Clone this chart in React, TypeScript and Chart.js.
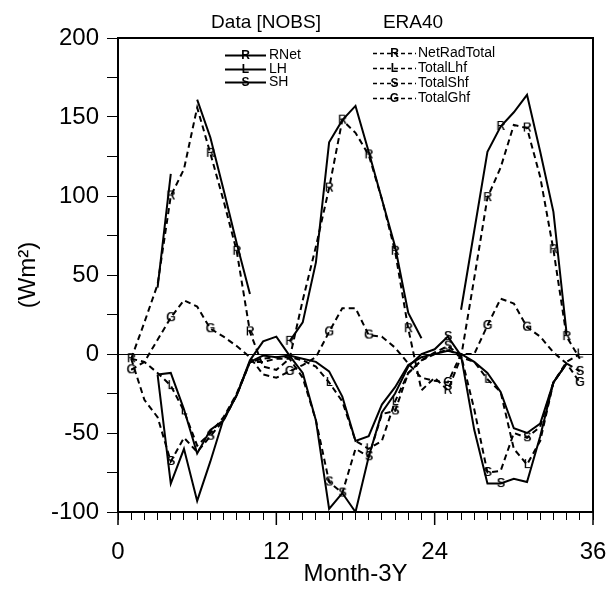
import React, { useEffect, useRef } from 'react';
import { Chart, registerables } from 'chart.js';

Chart.register(...registerables);

// Months of the 3-year record
const months = [1, 2, 3, 4, 5, 6, 7, 8, 9, 10, 11, 12, 13, 14, 15, 16, 17, 18, 19, 20, 21, 22, 23, 24, 25, 26, 27, 28, 29, 30, 31, 32, 33, 34, 35];

// Observations (Data [NOBS]) - solid lines
const rnetObs = [null, null, 42, 114, null, 161, 137, 104, 70, 38, null, null, 8, 20, 58, 134, 148, 157, 128, 98, 68, 26, 10, null, null, 28, 78, 128, 144, 153, 164, 128, 90, 13, null];
const lhObs = [null, null, -13, -12, -35, -63, -48, -42, -26, -5, -1, -2, -1, -3, -5, -11, -27, -55, -52, -32, -21, -7, -2, 0, 2, 0, -5, -12, -24, -47, -50, -44, -18, -6, null];
const shObs = [null, null, -13, -82, -60, -93, -68, -41, -26, -4, 8, 11, -1, -12, -42, -98, -88, -100, -65, -37, -25, -8, 0, 3, 11, -1, -48, -82, -82, -79, -81, -52, -18, -6, null];

// ERA40 - dashed lines
const netRadTotal = [-3, 20, 44, 100, 117, 156, 127, 97, 65, 14, -8, -10, -3, 34, 68, 105, 148, 140, 126, 98, 65, 16, -23, -15, -23, -2, 48, 99, 118, 145, 143, 112, 66, 11, -3];
const totalLhf = [-3, -5, -12, -20, -36, -58, -50, -40, -25, -5, -3, -2, -2, -4, -8, -18, -30, -55, -60, -55, -30, -12, -4, 0, 3, -2, -5, -16, -24, -60, -70, -55, -18, -5, 0];
const totalShf = [-3, -29, -40, -68, -53, -62, -52, -42, -26, -5, -5, -3, -3, -15, -42, -81, -88, -60, -65, -38, -36, -12, -4, 1, 5, -1, -35, -75, -74, -50, -53, -46, -18, -6, -11];
const totalGhf = [-10, -5, 9, 23, 34, 30, 16, 11, 5, -2, -13, -15, -11, -7, -2, 14, 29, 29, 12, 11, 4, -6, -15, -17, -18, 0, 0, 18, 35, 32, 17, 11, 1, -6, -18];

// Months at which the series letter is drawn on the line
const marksRNet = [13, 29];
const marksLH: number[] = [];
const marksSH = [25, 29];
const marksNetRad = [1, 4, 7, 9, 10, 16, 17, 19, 21, 22, 25, 28, 31, 33, 34];
const marksLhf = [4, 5, 16, 19, 21, 28, 31, 35];
const marksShf = [4, 7, 16, 17, 19, 21, 25, 28, 31, 35];
const marksGhf = [1, 4, 7, 13, 16, 19, 25, 28, 31, 35];

// Axis ticks
const xTickLabels = [0, 12, 24, 36];
const yTickLabels = [-100, -50, 0, 50, 100, 150, 200];

const FONT = '"Liberation Sans", Arial, Helvetica, sans-serif';

export default function App() {
  const ref = useRef<HTMLCanvasElement>(null);

  useEffect(() => {
    if (!ref.current) return;

    const letter = (ch: string) => {
      const c = document.createElement('canvas');
      c.width = 12;
      c.height = 13;
      const g = c.getContext('2d')!;
      g.font = `12px ${FONT}`;
      g.textAlign = 'center';
      g.textBaseline = 'middle';
      g.fillStyle = '#000';
      g.fillText(ch, 6, 7);
      g.fillText(ch, 6.4, 7);
      return c;
    };

    const mk = (label: string, values: (number | null)[], dashed: boolean, ch: string, marks: number[]) => ({
      label,
      data: months.map((m, i) => ({ x: m, y: values[i] })),
      borderColor: '#000',
      backgroundColor: '#000',
      borderWidth: 2,
      borderDash: dashed ? [6, 4] : [],
      fill: false,
      tension: 0,
      spanGaps: false,
      pointStyle: letter(ch),
      pointRadius: (c: any) => (marks.includes(months[c.dataIndex]) ? 4 : 0),
      pointHoverRadius: 0,
      letter: ch,
      dashed,
    });

    const datasets = [
      mk('RNet', rnetObs, false, 'R', marksRNet),
      mk('LH', lhObs, false, 'L', marksLH),
      mk('SH', shObs, false, 'S', marksSH),
      mk('NetRadTotal', netRadTotal, true, 'R', marksNetRad),
      mk('TotalLhf', totalLhf, true, 'L', marksLhf),
      mk('TotalShf', totalShf, true, 'S', marksShf),
      mk('TotalGhf', totalGhf, true, 'G', marksGhf),
    ];

    const decor = {
      id: 'decor',
      afterDraw(chart: any) {
        const { ctx, chartArea: a, scales } = chart;
        ctx.save();
        // frame top & right
        ctx.strokeStyle = '#000';
        ctx.lineWidth = 2;
        ctx.beginPath();
        ctx.moveTo(a.left, a.top);
        ctx.lineTo(a.right, a.top);
        ctx.lineTo(a.right, a.bottom);
        ctx.stroke();
        // longer major x ticks
        ctx.lineWidth = 1.5;
        xTickLabels.forEach((v) => {
          const x = scales.x.getPixelForValue(v);
          ctx.beginPath();
          ctx.moveTo(x, a.bottom);
          ctx.lineTo(x, a.bottom + 13);
          ctx.stroke();
        });
        // header
        ctx.fillStyle = '#000';
        ctx.textAlign = 'center';
        ctx.textBaseline = 'middle';
        ctx.font = `19px ${FONT}`;
        ctx.fillText('Data [NOBS]', 266, 23);
        ctx.fillText('ERA40', 413, 23);
        // legend
        const ds = chart.data.datasets;
        const solid = ds.filter((d: any) => !d.dashed);
        const dash = ds.filter((d: any) => d.dashed);
        const drawItem = (d: any, x0: number, x1: number, y: number, tx: number) => {
          ctx.save();
          ctx.lineWidth = d.dashed ? 1.5 : 2;
          ctx.setLineDash(d.dashed ? [4, 3] : []);
          ctx.beginPath();
          ctx.moveTo(x0, y);
          ctx.lineTo(x1, y);
          ctx.stroke();
          ctx.restore();
          ctx.font = `bold 12px ${FONT}`;
          ctx.textAlign = 'center';
          ctx.fillText(d.letter, (x0 + x1) / 2, y + 0.5);
          ctx.font = `14px ${FONT}`;
          ctx.textAlign = 'left';
          ctx.fillText(d.label, tx, y);
        };
        const leftRows = [55.5, 69.5, 82.5];
        solid.forEach((d: any, i: number) => drawItem(d, 225, 266, leftRows[i], 269));
        const rightRows = [53.5, 68.5, 83.5, 98.5];
        dash.forEach((d: any, i: number) => drawItem(d, 373, 416, rightRows[i], 418));
        ctx.restore();
      },
    };

    const chart = new Chart(ref.current, {
      type: 'line',
      data: { datasets: datasets as any },
      options: {
        animation: false,
        responsive: true,
        maintainAspectRatio: false,
        layout: { padding: { top: 38, right: 16, bottom: 0, left: 0 } },
        plugins: { legend: { display: false }, tooltip: { enabled: false }, title: { display: false } },
        events: [],
        scales: {
          x: {
            type: 'linear',
            min: 0,
            max: 36,
            afterFit: (s: any) => { s.height = 77; s.paddingLeft = 0; s.paddingRight = 0; },
            ticks: {
              stepSize: 1,
              autoSkip: false,
              maxRotation: 0,
              color: '#000',
              font: { family: FONT, size: 24 },
              padding: 18,
              callback: (v: any) => (xTickLabels.includes(v) ? String(v) : ''),
            },
            grid: { drawOnChartArea: false, drawTicks: true, tickLength: 8, tickColor: '#000', tickWidth: 1 },
            border: { display: true, color: '#000', width: 2 },
            title: { display: true, text: 'Month-3Y', color: '#000', font: { family: FONT, size: 24 }, padding: { top: 0, bottom: 0 } },
          },
          y: {
            type: 'linear',
            min: -100,
            max: 200,
            afterFit: (s: any) => { s.width = 118; s.paddingTop = 0; s.paddingBottom = 0; },
            ticks: {
              stepSize: 25,
              autoSkip: false,
              color: '#000',
              font: { family: FONT, size: 24 },
              padding: 8,
              callback: (v: any) => (yTickLabels.includes(v) ? String(v) : ''),
            },
            grid: {
              drawOnChartArea: true,
              drawTicks: true,
              tickLength: 11,
              tickColor: '#000',
              tickWidth: 1,
              lineWidth: 1,
              color: (c: any) => (c.tick && c.tick.value === 0 ? '#000' : 'rgba(0,0,0,0)'),
            },
            border: { display: true, color: '#000', width: 2 },
            title: { display: true, text: '(Wm²)', color: '#000', font: { family: FONT, size: 24 }, padding: { top: 14, bottom: 0 } },
          },
        },
      } as any,
      plugins: [decor],
    });

    return () => chart.destroy();
  }, []);

  return (
    <div style={{ position: 'absolute', left: 0, top: 0, width: 609, height: 589, background: '#fff' }}>
      <canvas ref={ref} />
    </div>
  );
}
